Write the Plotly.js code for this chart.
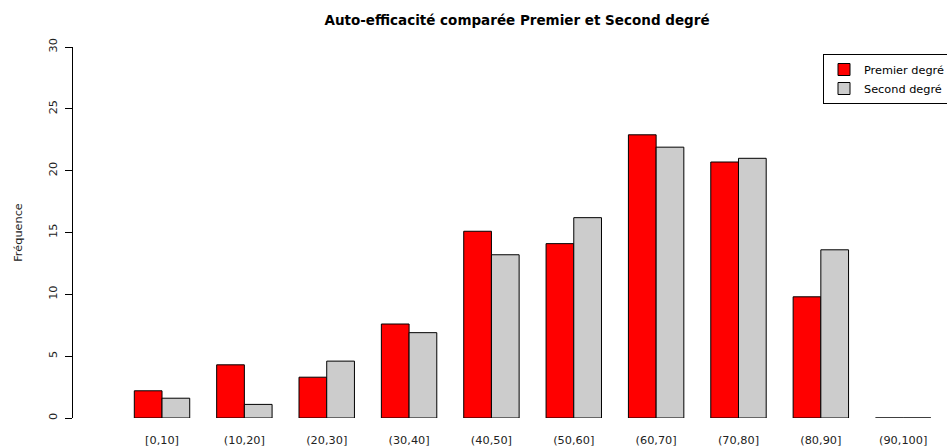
<!DOCTYPE html>
<html>
<head>
<meta charset="utf-8">
<script src="https://cdn.plot.ly/plotly-3.0.1.min.js"></script>
<style>html,body{margin:0;padding:0;background:#fff;}#chart{width:947px;height:448px;}</style>
</head>
<body>
<div id="chart"></div>
<script>
const categories = ["[0,10]", "(10,20]", "(20,30]", "(30,40]", "(40,50]", "(50,60]", "(60,70]", "(70,80]", "(80,90]", "(90,100]"];
const premierDegre = [2.2, 4.3, 3.3, 7.6, 15.1, 14.1, 22.9, 20.7, 9.8, 0];
const secondDegre = [1.6, 1.1, 4.6, 6.9, 13.2, 16.2, 21.9, 21.0, 13.6, 0];
const seriesNames = ["Premier degré", "Second degré"];
const yTicks = [0, 5, 10, 15, 20, 25, 30];

const font = "DejaVu Sans, Verdana, sans-serif";
const fs = 11.3;

const traces = [
  {type: "bar", x: categories, y: premierDegre, name: seriesNames[0],
   marker: {color: "#FF0000", line: {color: "#000000", width: 1}}},
  {type: "bar", x: categories, y: secondDegre, name: seriesNames[1],
   marker: {color: "#CCCCCC", line: {color: "#000000", width: 1}}}
];

const layout = {
  width: 947, height: 448,
  margin: {l: 73, r: 0, t: 47, b: 30, autoexpand: false},
  paper_bgcolor: "#ffffff", plot_bgcolor: "#ffffff",
  font: {family: font, size: fs, color: "#000000"},
  barmode: "group", bargap: 0.327, bargroupgap: 0,
  showlegend: true,
  title: {text: "<b>Auto-efficacité comparée Premier et Second degré</b>",
          font: {family: font, size: 13.5, color: "#000000"},
          x: 517/947, xref: "container", xanchor: "center",
          y: 1 - 20/448, yref: "container", yanchor: "middle"},
  xaxis: {type: "category", range: [-1.081, 9.532], showline: false, showgrid: false,
          zeroline: false, ticks: "", tickfont: {family: font, size: fs, color: "#222"},
          ticklabelstandoff: 14, fixedrange: true},
  yaxis: {range: [0, 30], tickvals: yTicks, ticktext: yTicks.map(String),
          showline: true, linecolor: "#000", linewidth: 1, showgrid: false, zeroline: false,
          ticks: "outside", ticklen: 7, tickcolor: "#000", tickwidth: 1,
          tickangle: -90, tickfont: {family: font, size: fs, color: "#222"},
          ticklabelstandoff: 3,
          title: {text: "Fréquence", font: {family: font, size: fs, color: "#222"}, standoff: 22},
          fixedrange: true},
  legend: {x: (823-73)/874, y: (418-54)/371, xanchor: "left", yanchor: "top",
           bordercolor: "#000", borderwidth: 1, bgcolor: "#fff",
           font: {family: font, size: fs, color: "#000"}, tracegroupgap: 0, itemwidth: 30}
};

Plotly.newPlot("chart", traces, layout, {displayModeBar: false, staticPlot: true});
</script>
</body>
</html>
